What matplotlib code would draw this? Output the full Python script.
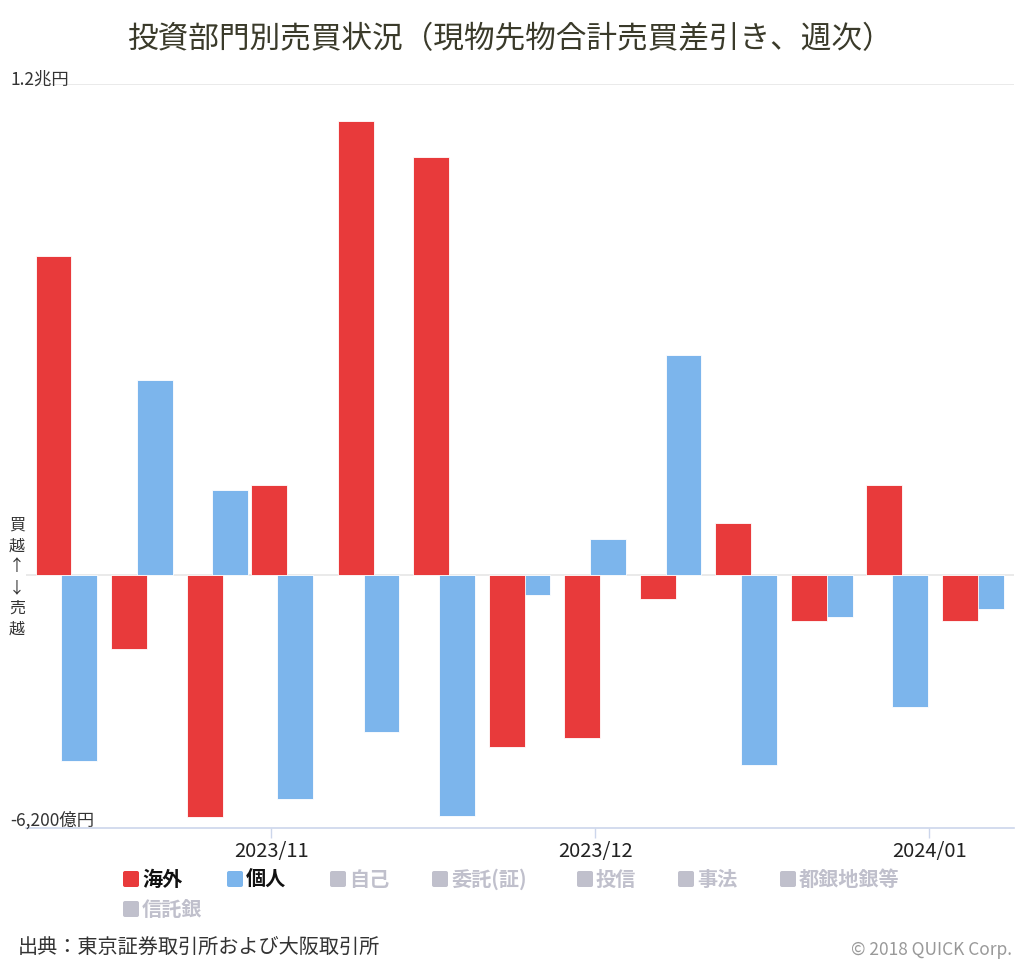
import matplotlib.pyplot as plt
import matplotlib.dates as mdates
from matplotlib.patches import FancyBboxPatch
import datetime as dt

plt.rcParams['font.family'] = ['Noto Sans CJK JP', 'DejaVu Sans']

# 週の最終営業日
weeks = ['2023-10-13', '2023-10-20', '2023-10-27', '2023-11-02', '2023-11-10',
         '2023-11-17', '2023-11-24', '2023-12-01', '2023-12-08', '2023-12-15',
         '2023-12-22', '2023-12-29', '2024-01-05']
# 億円
kaigai = [7800, -1810, -5940, 2200, 11100, 10220, -4210, -4010, -590, 1250, -1130, 2200, -1130]
kojin = [-4550, 4750, 2080, -5500, -3840, -5900, -510, 860, 5380, -4650, -1050, -3230, -850]

month_ticks = ['2023-11-01', '2023-12-01', '2024-01-01']
month_labels = ['2023/11', '2023/12', '2024/01']

legend_on = [('海外', '#e83a3b'), ('個人', '#7cb5ec')]
legend_off = ['自己', '委託(証)', '投信', '事法', '都銀地銀等', '信託銀']

W, H = 1024, 964
fig = plt.figure(figsize=(W / 100, H / 100), dpi=100)
ax = fig.add_axes([26 / W, (H - 828) / H, (1014 - 26) / W, (828 - 84) / H])

x = mdates.date2num([dt.datetime.strptime(d, '%Y-%m-%d') for d in weeks])
bw = 3.33
off = 1.2
ax.bar(x + off, kojin, width=bw, color='#7cb5ec', edgecolor='white', linewidth=0.6, zorder=2)
ax.bar(x - off, kaigai, width=bw, color='#e83a3b', edgecolor='white', linewidth=0.6, zorder=3)

ax.axhline(0, color='#e6e6e6', lw=1.2, zorder=1)
ax.axhline(12000, color='#e6e6e6', lw=1.2, zorder=1)

ax.set_ylim(-6200, 12000)
ax.set_xlim(mdates.date2num(dt.datetime(2023, 10, 9, 6)), mdates.date2num(dt.datetime(2024, 1, 8, 20)))

for s in ['top', 'right', 'left']:
    ax.spines[s].set_visible(False)
ax.spines['bottom'].set_color('#ccd6eb')
ax.spines['bottom'].set_linewidth(1.2)
ax.set_yticks([])
tx = mdates.date2num([dt.datetime.strptime(d, '%Y-%m-%d') for d in month_ticks])
ax.set_xticks(tx)
ax.set_xticklabels(month_labels, fontsize=14.5, color='#222222')
ax.tick_params(axis='x', length=7, width=1, color='#ccd6eb', pad=2)

# 軸ラベル
fig.text(10 / W, 1 - 80 / H, '1.2兆円', fontsize=12.5, color='#333333', va='center', ha='left')
fig.text(10 / W, 1 - 820 / H, '-6,200億円', fontsize=12.5, color='#333333', va='center', ha='left')
fig.text(17 / W, 1 - 577 / H, '買\n越\n↑\n↓\n売\n越', fontsize=11.5, color='#333333',
         va='center', ha='center', linespacing=1.3, family=['Noto Sans CJK JP', 'DejaVu Sans'])

# タイトル
fig.text(510 / W, 1 - 40 / H, '投資部門別売買状況（現物先物合計売買差引き、週次）',
         fontsize=22.1, color='#3a3a2a', ha='center', va='center')

# 凡例
def legend_item(px, py, label, color, textcolor):
    sq = FancyBboxPatch((px / W, 1 - (py + 8) / H), 16 / W, 16 / H,
                        boxstyle='round,pad=0,rounding_size=0.002',
                        transform=fig.transFigure, facecolor=color, edgecolor='none')
    fig.patches.append(sq)
    fig.text((px + 19) / W, 1 - py / H, label, fontsize=14.5, fontweight='bold',
             color=textcolor, va='center', ha='left')

legend_item(123, 879, legend_on[0][0], legend_on[0][1], '#111111')
legend_item(227, 879, legend_on[1][0], legend_on[1][1], '#111111')
off_pos = [(330, 879), (432, 879), (577, 879), (678, 879), (780, 879), (123, 909)]
for (px, py), lab in zip(off_pos, legend_off):
    legend_item(px, py, lab, '#c0c0cc', '#c0c0cc')

# 出典
fig.text(18 / W, 1 - 947 / H, '出典：東京証券取引所および大阪取引所', fontsize=14.5, color='#333333',
         va='center', ha='left')
fig.text(1012 / W, 1 - 950 / H, '© 2018 QUICK Corp.', fontsize=12.5, color='#999999',
         va='center', ha='right')

fig.savefig('out.png', dpi=100)
